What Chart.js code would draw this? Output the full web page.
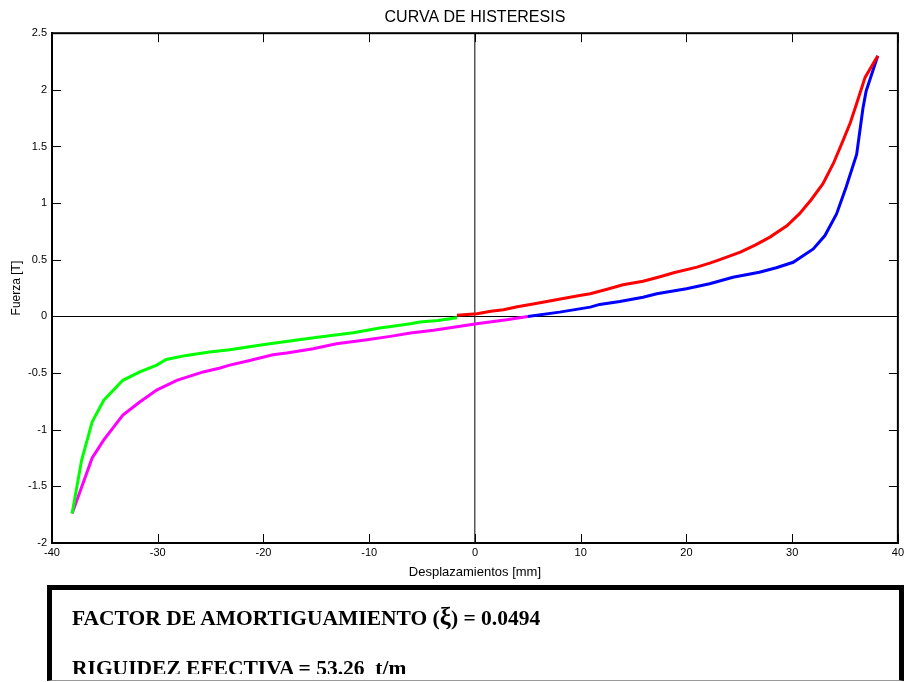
<!DOCTYPE html>
<html>
<head>
<meta charset="utf-8">
<script src="https://cdn.jsdelivr.net/npm/chart.js@4.4.1/dist/chart.umd.min.js"></script>
<style>
  html, body { margin: 0; padding: 0; background: #fff; }
  body { width: 907px; height: 682px; position: relative; overflow: hidden; }
  #wrap { position: absolute; left: 0; top: 0; width: 907px; height: 590px; }
  #info {
    position: absolute; left: 47px; top: 585px; width: 847px; height: 90px;
    border-top: 5px solid #000; border-left: 5px solid #000; border-right: 5px solid #000;
    border-bottom: 1px solid #999;
    font-family: "Liberation Serif", "Times New Roman", serif; font-weight: bold;
    font-size: 21.5px; color: #000; white-space: pre;
  }
  #info .clip { position: absolute; left: 0; top: 0; right: 0; height: 84px; overflow: hidden; }
  #info .l1 { position: absolute; left: 20px; top: 14px; line-height: 26px; }
  #info .l2 { position: absolute; left: 20px; top: 65px; line-height: 26px; }
  #info .xi { font-size: 25px; }
</style>
</head>
<body>
<div id="wrap"><canvas id="c"></canvas></div>
<div id="info"><div class="clip"><span class="l1">FACTOR DE AMORTIGUAMIENTO (<span class="xi">ξ</span>) = 0.0494</span><span class="l2">RIGUIDEZ EFECTIVA = 53.26  t/m</span></div></div>
<script>
// Loop branches of the hysteresis curve (displacement in mm, force in T)
const greenX = [-38.1, -37.2, -36.2, -35.1, -33.3, -31.7, -30.1, -29.2, -27.3, -25.1, -23.2, -21.5, -19.4, -17.0, -14.7, -11.5, -9.0, -7.1, -6.1, -5.2, -3.5, -1.7];
const greenY = [-1.74, -1.27, -0.93, -0.74, -0.564, -0.49, -0.43, -0.38, -0.344, -0.314, -0.294, -0.27, -0.241, -0.21, -0.182, -0.144, -0.103, -0.078, -0.065, -0.05, -0.035, -0.012];

const redX = [-1.7, 0.2, 1.5, 2.7, 4.0, 5.5, 7.7, 9.9, 10.9, 12.5, 14.0, 15.9, 17.5, 18.8, 21.0, 22.2, 22.9, 25.1, 26.5, 27.9, 29.5, 30.7, 31.8, 32.9, 33.9, 34.8, 35.5, 36.1, 36.9, 38.1];
const redY = [0.01, 0.024, 0.045, 0.059, 0.085, 0.11, 0.147, 0.185, 0.2, 0.24, 0.28, 0.31, 0.35, 0.385, 0.435, 0.47, 0.493, 0.567, 0.63, 0.70, 0.80, 0.907, 1.03, 1.17, 1.35, 1.55, 1.71, 1.88, 2.11, 2.30];

const blueX = [38.1, 37.0, 36.7, 36.1, 35.1, 34.2, 33.1, 32.0, 30.1, 28.5, 26.9, 24.4, 22.2, 20.0, 17.2, 15.9, 13.7, 11.8, 10.9, 8.0, 5.0];
const blueY = [2.30, 1.99, 1.84, 1.43, 1.14, 0.905, 0.714, 0.596, 0.478, 0.43, 0.39, 0.346, 0.288, 0.244, 0.2, 0.17, 0.132, 0.106, 0.082, 0.038, 0.0];

const magentaX = [5.0, 3.0, 0.16, -3.9, -6.1, -8.0, -10.2, -13.1, -15.3, -17.8, -19.1, -21.6, -23.2, -24.1, -25.7, -28.2, -30.1, -31.7, -33.3, -35.1, -36.2, -38.1];
const magentaY = [0.0, -0.03, -0.065, -0.123, -0.147, -0.176, -0.205, -0.241, -0.285, -0.323, -0.338, -0.396, -0.43, -0.455, -0.49, -0.564, -0.65, -0.755, -0.87, -1.09, -1.25, -1.74];

const xTicks = [-40, -30, -20, -10, 0, 10, 20, 30, 40];
const yTicks = [-2, -1.5, -1, -0.5, 0, 0.5, 1, 1.5, 2, 2.5];

const FONT = '"Liberation Sans", Arial, Helvetica, sans-serif';

function pts(xs, ys) { return xs.map((x, i) => ({ x: x, y: ys[i] })); }

function branch(xs, ys, color) {
  return {
    data: pts(xs, ys), showLine: true, borderColor: color, backgroundColor: color,
    borderWidth: 3, pointRadius: 0, tension: 0, fill: false
  };
}

// Box around the plot with inward tick marks on all four sides
const boxTicks = {
  id: 'boxTicks',
  afterDatasetsDraw(chart) {
    const { ctx, chartArea: a, scales } = chart;
    const len = 9;
    ctx.save();
    ctx.strokeStyle = '#000';
    ctx.lineWidth = 1;
    ctx.beginPath();
    xTicks.forEach(v => {
      const px = Math.round(scales.x.getPixelForValue(v)) + 0.5;
      ctx.moveTo(px, a.bottom); ctx.lineTo(px, a.bottom - len);
      ctx.moveTo(px, a.top); ctx.lineTo(px, a.top + len);
    });
    yTicks.forEach(v => {
      const py = Math.round(scales.y.getPixelForValue(v)) + 0.5;
      ctx.moveTo(a.left, py); ctx.lineTo(a.left + len, py);
      ctx.moveTo(a.right, py); ctx.lineTo(a.right - len, py);
    });
    ctx.stroke();
    ctx.lineWidth = 2;
    ctx.strokeRect(a.left, a.top, a.right - a.left, a.bottom - a.top);
    ctx.restore();
  }
};

const plainNum = v => String(v);

new Chart(document.getElementById('c'), {
  type: 'scatter',
  data: {
    datasets: [
      branch(greenX, greenY, '#00ff00'),
      branch(redX, redY, '#ff0000'),
      branch(blueX, blueY, '#0000ff'),
      branch(magentaX, magentaY, '#ff00ff')
    ]
  },
  options: {
    responsive: true, maintainAspectRatio: false, animation: false,
    layout: { padding: { left: 0, right: 9, top: 0, bottom: 0 } },
    plugins: {
      legend: { display: false },
      tooltip: { enabled: false },
      title: {
        display: true, fullSize: false, text: 'CURVA DE HISTERESIS', color: '#000',
        font: { family: FONT, size: 16, weight: 'normal' },
        padding: { top: 8, bottom: 6 }
      }
    },
    scales: {
      x: {
        type: 'linear', min: -40, max: 40,
        afterBuildTicks(s) { s.ticks = xTicks.map(v => ({ value: v })); },
        afterFit(s) { s.height = 47; },
        ticks: { color: '#000', font: { family: FONT, size: 11 }, padding: 3, maxRotation: 0, callback: plainNum },
        grid: {
          drawTicks: false,
          color: c => (c.tick && c.tick.value === 0) ? '#555' : 'rgba(0,0,0,0)',
          lineWidth: 1.5
        },
        border: { display: true, color: '#000', width: 2 },
        title: {
          display: true, text: 'Desplazamientos [mm]', color: '#000',
          font: { family: FONT, size: 13 }, padding: { top: 0, bottom: 10 }
        }
      },
      y: {
        type: 'linear', min: -2, max: 2.5,
        afterBuildTicks(s) { s.ticks = yTicks.map(v => ({ value: v })); },
        afterFit(s) { s.width = 52; },
        ticks: { color: '#000', font: { family: FONT, size: 11 }, padding: 5, callback: plainNum },
        grid: {
          drawTicks: false,
          color: c => (c.tick && c.tick.value === 0) ? '#000' : 'rgba(0,0,0,0)',
          lineWidth: 1
        },
        border: { display: true, color: '#000', width: 2 },
        title: {
          display: true, text: 'Fuerza [T]', color: '#000',
          font: { family: FONT, size: 12 }, padding: { top: 9, bottom: 0 }
        }
      }
    }
  },
  plugins: [boxTicks]
});
</script>
</body>
</html>
